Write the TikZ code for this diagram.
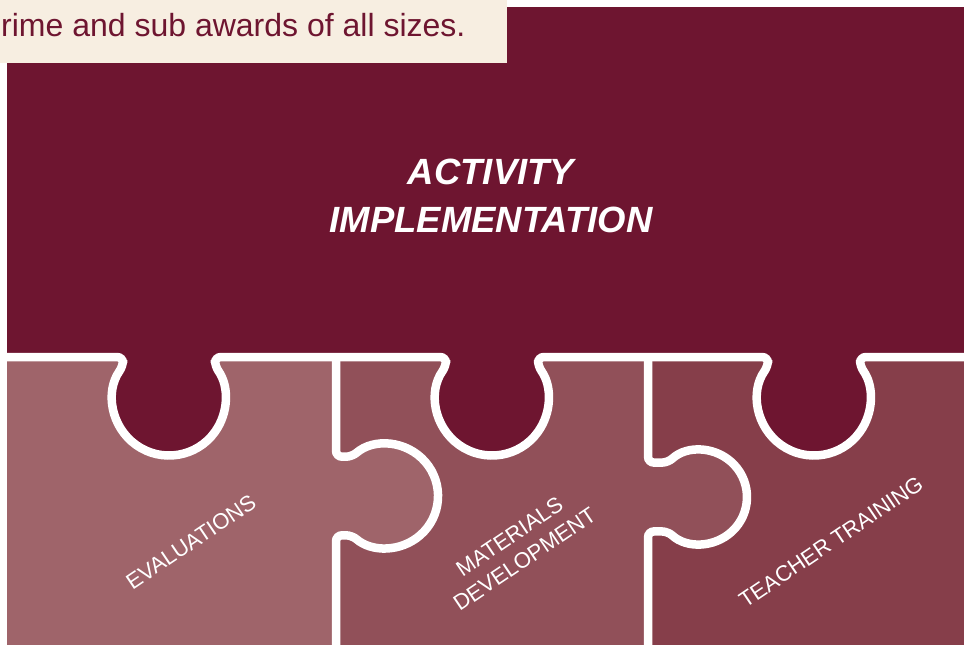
\documentclass[tikz,border=0pt]{standalone}
\usepackage{fontspec}
\setmainfont{Liberation Sans}

\definecolor{wine}{RGB}{110,21,48}
\definecolor{cream}{RGB}{247,238,225}
\definecolor{evalpiece}{RGB}{159,100,106}
\definecolor{matpiece}{RGB}{145,80,89}
\definecolor{teachpiece}{RGB}{134,62,74}

\tikzset{%
   puzzle seam/.style={
    draw=white,
    line width=8.5pt,
    rounded corners=6pt
  },
   piece label/.style={
    text=white,
    inner sep=0pt,
    align=center,
    rotate=34,
    font=\fontsize{22}{27}\selectfont
  },
}

\begin{document}
\begin{tikzpicture}[x=1pt, y=-1pt]
\useasboundingbox (0,0) rectangle (964,645);
\fill[white] (0,0) rectangle (964,645);

%=========================================================================================================
% Top piece
%=========================================================================================================
\fill[wine] (7,7) rectangle (970,470);

%=========================================================================================================
% Lower pieces
%=========================================================================================================

%Teacher training piece, drawn first so that the knob of the next piece lies on it
\fill[teachpiece] (648,357) [rounded corners=6pt] -- (768,357) -- (768,366.2)
  arc[start angle=215.5, end angle=-35.5, radius=56.5] -- (860,357) [sharp corners]
  -- (970,357) -- (970,650) -- (648,650) -- cycle;

%Materials development piece, with its knob going right
\fill[matpiece] (336,357) [rounded corners=6pt] -- (446,357) -- (446,366.2)
  arc[start angle=215.5, end angle=-35.5, radius=56.5] -- (538,357) -- (648,357)
  -- (648,462.6) -- (668,462.6) arc[start angle=227.1, end angle=492.9, radius=47]
  -- (648,531.4) [sharp corners] -- (648,650) -- (336,650) -- cycle;

%Evaluations piece, with its knob going right
\fill[evalpiece] (7,357) [rounded corners=6pt] -- (123,357) -- (123,366.2)
  arc[start angle=215.5, end angle=-35.5, radius=56.5] -- (215,357) -- (336,357)
  -- (336,456.7) -- (352,456.7) arc[start angle=229.1, end angle=490.9, radius=52]
  -- (336,535.3) [sharp corners] -- (336,650) -- (7,650) -- cycle;

%=========================================================================================================
% White seams
%=========================================================================================================

%Seam under the top piece, one knob per lower piece
\draw[puzzle seam] (7,357)
  \foreach \cx in {169,492,814} {
    -- (\cx-46,357) -- (\cx-46,366.2)
    arc[start angle=215.5, end angle=-35.5, radius=56.5] -- (\cx+46,357)
  } -- (970,357);

%Seam between evaluations and materials development
\draw[puzzle seam] (336,357) -- (336,456.7) -- (352,456.7)
  arc[start angle=229.1, end angle=490.9, radius=52] -- (336,535.3) -- (336,650);

%Seam between materials development and teacher training
\draw[puzzle seam] (648,357) -- (648,462.6) -- (668,462.6)
  arc[start angle=227.1, end angle=492.9, radius=47] -- (648,531.4) -- (648,650);

%=========================================================================================================
% Note box
%=========================================================================================================
\fill[cream] (0,0) rectangle (507,63);
\node[anchor=base west, inner sep=0pt, text=wine, font=\fontsize{32}{38}\selectfont]
  (note) at (1,36) {rime and sub awards of all sizes.};

%=========================================================================================================
% Labels
%=========================================================================================================
\node[align=center, inner sep=0pt, text=white, font=\bfseries\itshape\fontsize{36.5}{48}\selectfont]
  (activity) at (491,196) {ACTIVITY\\IMPLEMENTATION};

\node[piece label] (evaluations) at (191,542) {EVALUATIONS};
\node[piece label] (materials) at (517,548) {MATERIALS\\DEVELOPMENT};
\node[piece label] (teacher) at (831,542) {TEACHER TRAINING};

\end{tikzpicture}
\end{document}
